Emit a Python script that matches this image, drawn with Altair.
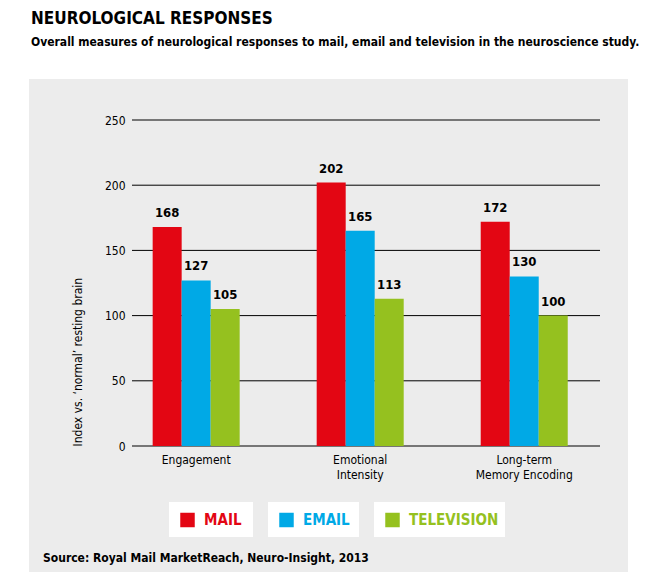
import altair as alt
import pandas as pd

# ---------------- data ----------------
categories = ["Engagement", "Emotional\nIntensity", "Long-term\nMemory Encoding"]
series = ["MAIL", "EMAIL", "TELEVISION"]
mail = [168, 202, 172]
email = [127, 165, 130]
television = [105, 113, 100]
y_ticks = [0, 50, 100, 150, 200, 250]

title_text = "NEUROLOGICAL RESPONSES"
subtitle_text = "Overall measures of neurological responses to mail, email and television in the neuroscience study."
y_title = "Index vs. \u2018normal\u2019 resting brain"
source_text = "Source: Royal Mail MarketReach, Neuro-Insight, 2013"

# ---------------- style ----------------
FONT = "DejaVu Sans Condensed, Liberation Sans Narrow, sans-serif"
colors = ["#E30613", "#00A9E6", "#95C11F"]
panel_gray = "#ECECEC"
legend_box_widths = [84, 91, 131]

values = {"MAIL": mail, "EMAIL": email, "TELEVISION": television}
rows = []
for s in series:
    for c, v in zip(categories, values[s]):
        rows.append({"category": c, "series": s, "value": v})
df = pd.DataFrame(rows)
ticks_df = pd.DataFrame({"value": y_ticks})

x_enc = alt.X(
    "category:N",
    sort=categories,
    scale=alt.Scale(range=[0, 456.4], paddingInner=0.4695, paddingOuter=0.126),
    axis=alt.Axis(
        title=None, labelAngle=0, domain=False, ticks=False,
        labelExpr="split(datum.value, '\\n')",
        labelFontSize=12, labelPadding=8, labelLineHeight=15,
        labelColor="black", zindex=1,
    ),
)
xo_enc = alt.XOffset("series:N", sort=series,
                     scale=alt.Scale(domain=series, paddingInner=0, paddingOuter=0))
y_enc = alt.Y(
    "value:Q",
    scale=alt.Scale(domain=[0, 250], nice=False),
    axis=alt.Axis(
        values=y_ticks, domain=False, ticks=False, grid=False,
        labelFontSize=12, labelPadding=7, labelColor="black",
        title=y_title, titleAnchor="start", titleFontSize=12,
        titleFontWeight="normal", titleColor="black", titlePadding=20,
        zindex=1,
    ),
)
color_enc = alt.Color("series:N", scale=alt.Scale(domain=series, range=colors), legend=None)

one = pd.DataFrame({"k": [0]})
bg = alt.Chart(one).mark_rect(color=panel_gray).encode(
    x=alt.value(-103), x2=alt.value(496), y=alt.value(-41), y2=alt.value(452)
)
grid = alt.Chart(ticks_df).mark_rule(color="black", strokeWidth=1).encode(y=y_enc)
bars = alt.Chart(df).mark_bar().encode(x=x_enc, xOffset=xo_enc, y=y_enc, color=color_enc)
labels = alt.Chart(df).mark_text(
    dy=-10, baseline="alphabetic", fontSize=13, fontWeight="bold", color="black", font=FONT
).encode(x=x_enc, xOffset=xo_enc, y=y_enc, text="value:Q")
source = alt.Chart(one).mark_text(
    align="left", baseline="alphabetic", fontSize=12, fontWeight="bold", color="black", font=FONT
).encode(x=alt.value(-89), y=alt.value(442), text=alt.value(source_text))

main = alt.layer(bg, grid, bars, labels, source).properties(width=468, height=326)

spacer = alt.Chart(one).mark_point(opacity=0).encode(x=alt.value(0), y=alt.value(0)).properties(
    width=22, height=35
)
panels = [spacer]
for s, col, w in zip(series, colors, legend_box_widths):
    d = pd.DataFrame({"series": [s], "color": [col]})
    base = alt.Chart(d)
    sq = base.mark_square(size=210, opacity=1).encode(
        x=alt.value(18.5), y=alt.value(18), color=alt.Color("color:N", scale=None)
    )
    tx = base.mark_text(
        align="left", baseline="middle", fontSize=15, fontWeight="bold", font=FONT
    ).encode(x=alt.value(35), y=alt.value(18), text="series:N",
             color=alt.Color("color:N", scale=None))
    panels.append(
        alt.layer(sq, tx).properties(
            width=w, height=35, view=alt.ViewBackground(fill="white", strokeWidth=0)
        )
    )
legend_row = alt.hconcat(*panels, spacing=15)

chart = (
    alt.vconcat(main, legend_row, spacing=56, bounds="flush")
    .properties(
        title=alt.TitleParams(
            text=title_text, subtitle=subtitle_text, anchor="start",
            fontSize=17, fontWeight="bold", color="black", font=FONT,
            subtitleFontSize=12, subtitleFontWeight="bold", subtitleColor="black",
            subtitleFont=FONT, subtitlePadding=9, offset=30, dx=2,
        ),
        padding={"left": 21, "top": 2, "right": 5, "bottom": 5},
    )
    .configure(font=FONT)
    .configure_view(strokeWidth=0)
    .configure_axis(labelFont=FONT, titleFont=FONT)
)

chart.save("out.html", embed_options={"renderer": "svg", "actions": False})
